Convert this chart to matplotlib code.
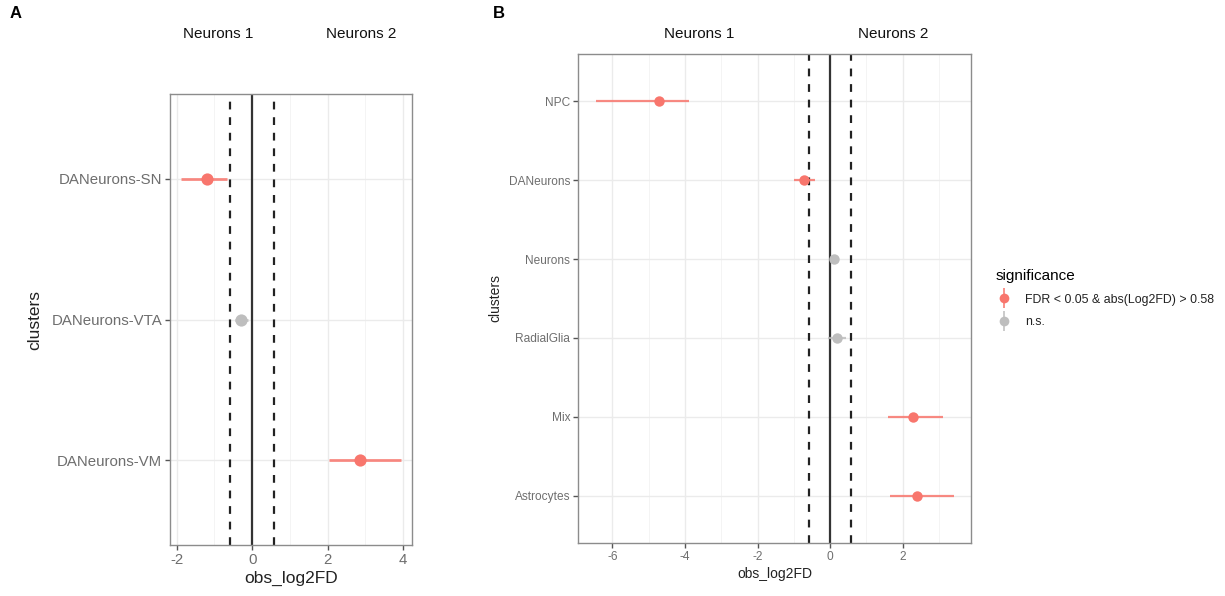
import matplotlib
matplotlib.use("Agg")
import matplotlib.pyplot as plt
from matplotlib.lines import Line2D
from matplotlib.ticker import MultipleLocator

plt.rcParams['font.family'] = ['Liberation Sans', 'DejaVu Sans']
plt.rcParams['axes.unicode_minus'] = False

# ---- data ----
a_clusters = ["DANeurons-SN", "DANeurons-VTA", "DANeurons-VM"]
a_obs = [-1.19, -0.29, 2.85]
a_lo = [-1.88, -0.45, 2.05]
a_hi = [-0.66, -0.12, 3.96]
a_sig = [True, False, True]

b_clusters = ["NPC", "DANeurons", "Neurons", "RadialGlia", "Mix", "Astrocytes"]
b_obs = [-4.73, -0.72, 0.11, 0.18, 2.27, 2.40]
b_lo = [-6.45, -0.99, 0.02, -0.05, 1.58, 1.65]
b_hi = [-3.88, -0.43, 0.20, 0.43, 3.10, 3.40]
b_sig = [True, True, False, False, True, True]

threshold = 0.58
sig_labels = ["FDR < 0.05 & abs(Log2FD) > 0.58", "n.s."]
SIG = "#F8766D"
NS = "#BEBEBE"

W, H = 1225, 596
fig = plt.figure(figsize=(W / 100, H / 100), dpi=100)


def px_axes(l, t, r, b):
    return fig.add_axes([l / W, (H - b) / H, (r - l) / W, (b - t) / H])


def draw_panel(ax, clusters, obs, lo, hi, sig, xlim, major, minor, ms, lw,
               tickfs, labfs, ylpad):
    n = len(clusters)
    ys = list(range(n, 0, -1))
    ax.set_xlim(*xlim)
    ax.set_ylim(0.4, n + 0.6)
    ax.xaxis.set_major_locator(MultipleLocator(major))
    ax.xaxis.set_minor_locator(MultipleLocator(minor))
    ax.set_yticks(ys)
    ax.set_yticklabels(clusters)
    ax.grid(True, which='major', color='#EBEBEB', lw=1.0, zorder=0)
    ax.grid(True, which='minor', axis='x', color='#F2F2F2', lw=0.6, zorder=0)
    ax.set_axisbelow(True)
    ax.axvline(0, color='#333333', lw=1.6, zorder=2)
    for v in (-threshold, threshold):
        ax.axvline(v, color='#222222', lw=1.6, ls=(0, (3.5, 3.5)), zorder=2)
    for y, o, l, h, s in zip(ys, obs, lo, hi, sig):
        c = SIG if s else NS
        ax.hlines(y, l, h, color=c, lw=lw, alpha=0.85, zorder=3)
        ax.plot([o], [y], 'o', color=c, ms=ms, mec='none', zorder=4)
    for sp in ax.spines.values():
        sp.set_color('#8C8C8C')
        sp.set_linewidth(1.0)
    ax.tick_params(which='major', color='#555555', length=3.5, width=1,
                   labelcolor='#6E6E6E', labelsize=tickfs, pad=2)
    ax.tick_params(which='minor', length=0)
    ax.set_xlabel("obs_log2FD", fontsize=labfs, color='#222222', labelpad=3)
    ax.set_ylabel("clusters", fontsize=labfs, color='#222222', labelpad=ylpad)


axA = px_axes(170, 94, 412, 545)
draw_panel(axA, a_clusters, a_obs, a_lo, a_hi, a_sig, (-2.18, 4.24), 2, 1,
           ms=8.8, lw=2.0, tickfs=10.8, labfs=12.5, ylpad=7)

axB = px_axes(578, 54, 971, 543)
draw_panel(axB, b_clusters, b_obs, b_lo, b_hi, b_sig, (-6.95, 3.88), 2, 1,
           ms=7.5, lw=1.6, tickfs=8.6, labfs=10, ylpad=5)

# group headers
for x, t in [(218, "Neurons 1"), (361, "Neurons 2"), (699, "Neurons 1"), (893, "Neurons 2")]:
    fig.text(x / W, 1 - 34 / H, t, ha='center', va='center', fontsize=11, color='#111111')

fig.text(10 / W, 1 - 14 / H, "A", ha='left', va='center', fontsize=12, fontweight='bold')
fig.text(493 / W, 1 - 14 / H, "B", ha='left', va='center', fontsize=12, fontweight='bold')

handles = []
for c in (SIG, NS):
    vbar = Line2D([0], [0], color=c, marker='|', ms=14, mew=1.3, lw=0, alpha=0.85)
    dot = Line2D([0], [0], color=c, marker='o', ms=7, mec='none', lw=0)
    handles.append((vbar, dot))
leg = fig.legend(handles, sig_labels, title="significance", loc='upper left',
                 bbox_to_anchor=(984 / W, 1 - 258 / H), frameon=False,
                 fontsize=8.9, title_fontsize=11, alignment='left',
                 handletextpad=1.0, labelspacing=0.85, handlelength=1.4)
for t in leg.get_texts():
    t.set_color('#222222')

fig.savefig("out.png", dpi=100)
